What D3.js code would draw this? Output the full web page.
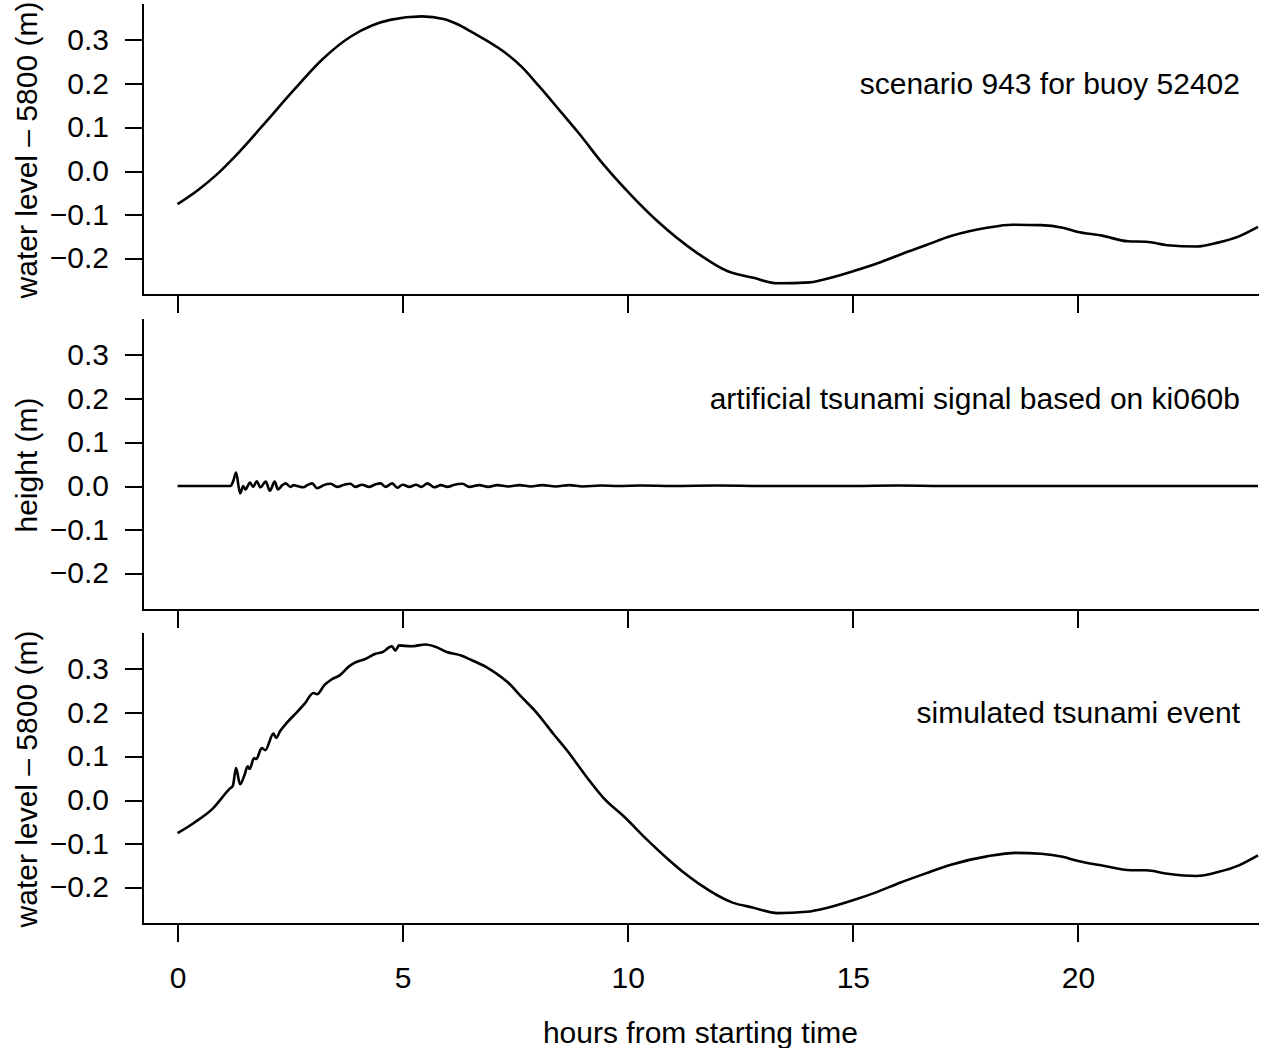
<!DOCTYPE html>
<html>
<head>
<meta charset="utf-8">
<script src="https://cdn.jsdelivr.net/npm/d3@7"></script>
<style>
  html, body { margin: 0; padding: 0; background: #fff; }
  svg { display: block; }
  text { font-family: "Liberation Sans", Arial, Helvetica, sans-serif; fill: #000; }
</style>
</head>
<body>
<svg id="chart" width="1262" height="1048"></svg>
<script>
// Scenario 943 water level at buoy 52402 (hours, metres above 5800 m)
const scenarioHours = [0, 0.45, 0.85, 1.30, 1.90, 2.58, 3.22, 3.85, 4.32, 4.72, 5.43, 5.91, 6.22, 6.54,
  7.25, 7.64, 8.04, 8.51, 8.91, 9.46, 10.09, 10.65, 11.56, 12.21, 12.77, 13.33, 14.05, 14.29, 15.02,
  15.58, 16.06, 16.62, 17.18, 17.98, 18.54, 19.18, 19.66, 19.98, 20.54, 21.11, 21.51, 21.99, 22.63,
  23.11, 23.59, 24.0];
const scenarioLevel = [-0.076, -0.044, -0.010, 0.036, 0.105, 0.185, 0.256, 0.308, 0.333, 0.346, 0.354,
  0.348, 0.336, 0.318, 0.273, 0.239, 0.193, 0.136, 0.087, 0.015, -0.057, -0.114, -0.189, -0.229,
  -0.244, -0.257, -0.255, -0.250, -0.229, -0.210, -0.191, -0.170, -0.149, -0.130, -0.123, -0.124,
  -0.130, -0.139, -0.148, -0.161, -0.162, -0.170, -0.173, -0.164, -0.149, -0.128];

// Artificial tsunami signal based on ki060b (hours, height in metres)
const signalHours = [0, 0.6, 1.0, 1.18, 1.24, 1.30, 1.39, 1.46, 1.51, 1.61, 1.68, 1.76, 1.84, 1.96, 2.05, 2.16,
  2.23, 2.33, 2.40, 2.51, 2.58, 2.66, 2.79, 2.90, 2.99, 3.10, 3.25, 3.40, 3.55, 3.70, 3.84, 3.95,
  4.10, 4.25, 4.40, 4.51, 4.62, 4.77, 4.88, 5.00, 5.15, 5.30, 5.42, 5.55, 5.70, 5.85, 6.00, 6.15,
  6.33, 6.48, 6.70, 6.90, 7.10, 7.35, 7.60, 7.85, 8.10, 8.40, 8.70, 9.00, 9.40, 9.80, 10.3, 11.0,
  12.0, 13.0, 14.0, 15.0, 16.0, 17.0, 18.0, 19.0, 20.0, 21.0, 22.0, 23.0, 24.0];
const signalHeight = [0, 0, 0, 0, 0.012, 0.031, -0.017, 0.000, -0.008, 0.008, -0.002, 0.011, -0.003,
  0.010, -0.011, 0.010, -0.008, 0.002, 0.006, -0.002, 0.002, 0.000, -0.003, 0.003, 0.006, -0.005,
  0.002, 0.005, -0.002, 0.003, 0.005, -0.002, 0.003, -0.002, 0.004, 0.006, -0.002, 0.006, -0.004,
  0.003, -0.002, 0.003, -0.002, 0.006, -0.003, 0.002, -0.002, 0.003, 0.005, -0.002, 0.002, -0.002,
  0.002, -0.001, 0.002, -0.001, 0.002, -0.001, 0.002, -0.001, 0.001, 0.000, 0.001, 0.000, 0.001,
  0.000, 0.000, 0.000, 0.001, 0.000, 0.000, 0.000, 0.000, 0.000, 0.000, 0.000, 0.000];

// Simulated tsunami event: scenario plus artificial signal (hours, metres above 5800 m)
const eventHours = [0, 0.37, 0.77, 1.16, 1.23, 1.30, 1.39, 1.48, 1.56, 1.60, 1.70, 1.75, 1.87, 1.95,
  2.13, 2.19, 2.28, 2.43, 2.66, 2.82, 3.02, 3.10, 3.26, 3.42, 3.61, 3.81, 3.93, 4.17, 4.40, 4.56,
  4.76, 4.84, 4.92, 5.19, 5.51, 5.75, 5.98, 6.30, 6.54, 6.85, 7.09, 7.33, 7.64, 7.96, 8.36, 8.67,
  9.07, 9.46, 9.94, 10.41, 10.89, 11.28, 11.57, 12.33, 12.77, 13.33, 13.97, 14.46, 15.02, 15.50,
  16.06, 16.62, 17.18, 17.98, 18.62, 19.18, 19.66, 19.98, 20.54, 21.18, 21.51, 21.99, 22.63, 23.11,
  23.59, 24.0];
const eventLevel = [-0.076, -0.052, -0.021, 0.026, 0.033, 0.073, 0.036, 0.055, 0.077, 0.071, 0.096,
  0.094, 0.119, 0.114, 0.152, 0.142, 0.158, 0.177, 0.202, 0.220, 0.245, 0.242, 0.263, 0.276, 0.286,
  0.306, 0.314, 0.323, 0.335, 0.339, 0.352, 0.342, 0.354, 0.352, 0.356, 0.350, 0.339, 0.331, 0.320,
  0.305, 0.289, 0.270, 0.236, 0.202, 0.150, 0.111, 0.055, 0.005, -0.040, -0.089, -0.135, -0.169,
  -0.191, -0.235, -0.246, -0.259, -0.256, -0.246, -0.229, -0.212, -0.189, -0.168, -0.148, -0.129,
  -0.121, -0.123, -0.130, -0.139, -0.150, -0.161, -0.161, -0.169, -0.174, -0.165, -0.149, -0.127];

// Tick values and text
const xTicks = [0, 5, 10, 15, 20];
const yTicks = [-0.2, -0.1, 0.0, 0.1, 0.2, 0.3];
const panelTitles = ["scenario 943 for buoy 52402", "artificial tsunami signal based on ki060b", "simulated tsunami event"];
const yLabels = ["water level \u2013 5800 (m)", "height (m)", "water level \u2013 5800 (m)"];
const xLabel = "hours from starting time";

const panels = [
  { hours: scenarioHours, values: scenarioLevel },
  { hours: signalHours, values: signalHeight },
  { hours: eventHours, values: eventLevel }
];

const svg = d3.select("#chart");
svg.append("rect").attr("width", 1262).attr("height", 1048).attr("fill", "#fff");

const left = 143, right = 1258;
const panelTops = [5, 320, 634];
const panelH = 290;
const FONT = 30;
const AXIS_W = 2;

const x = d3.scaleLinear().domain([-0.7667, 24]).range([left, right]);
const fmt = v => (v < 0 ? "\u2212" : "") + Math.abs(v).toFixed(1);

panels.forEach((p, i) => {
  const top = panelTops[i], bottom = top + panelH;
  const y = d3.scaleLinear().domain([-0.2839, 0.3801]).range([bottom, top]);
  const g = svg.append("g");

  // left axis
  const ya = g.append("g").attr("transform", `translate(${left},0)`)
    .call(d3.axisLeft(y).tickValues(yTicks).tickSize(18).tickPadding(16).tickFormat(fmt));
  ya.select(".domain").remove();
  ya.selectAll(".tick line").attr("stroke", "#000").attr("stroke-width", AXIS_W)
    .attr("shape-rendering", "crispEdges");
  ya.selectAll(".tick text").attr("font-size", FONT).attr("font-family", null).attr("fill", "#000");

  // bottom axis ticks (labels only on the last panel)
  const xa = g.append("g").attr("transform", `translate(0,${bottom})`)
    .call(d3.axisBottom(x).tickValues(xTicks).tickSize(18).tickPadding(25)
      .tickFormat(i === 2 ? d3.format("d") : () => ""));
  xa.select(".domain").remove();
  xa.selectAll(".tick line").attr("stroke", "#000").attr("stroke-width", AXIS_W)
    .attr("shape-rendering", "crispEdges");
  xa.selectAll(".tick text").attr("font-size", FONT).attr("font-family", null).attr("fill", "#000");

  // L-shaped frame
  g.append("path")
    .attr("d", `M${left},${top}V${bottom}H${right}`)
    .attr("fill", "none").attr("stroke", "#000").attr("stroke-width", AXIS_W)
    .attr("stroke-linecap", "square").attr("shape-rendering", "crispEdges");

  // series
  const pts = p.hours.map((h, k) => [h, p.values[k]]);
  g.append("path")
    .datum(pts)
    .attr("fill", "none").attr("stroke", "#000").attr("stroke-width", 2.6)
    .attr("stroke-linejoin", "round")
    .attr("d", d3.line().x(d => x(d[0])).y(d => y(d[1])).curve(d3.curveMonotoneX));

  // panel title
  g.append("text")
    .attr("x", x(24) - 18).attr("y", y(0.2)).attr("dy", "0.33em")
    .attr("text-anchor", "end").attr("font-size", FONT)
    .text(panelTitles[i]);

  // y label
  g.append("text")
    .attr("transform", `translate(37,${(top + bottom) / 2}) rotate(-90)`)
    .attr("text-anchor", "middle").attr("font-size", FONT)
    .text(yLabels[i]);
});

// x label
svg.append("text")
  .attr("x", (left + right) / 2).attr("y", 1043)
  .attr("text-anchor", "middle").attr("font-size", FONT)
  .text(xLabel);
</script>
</body>
</html>
